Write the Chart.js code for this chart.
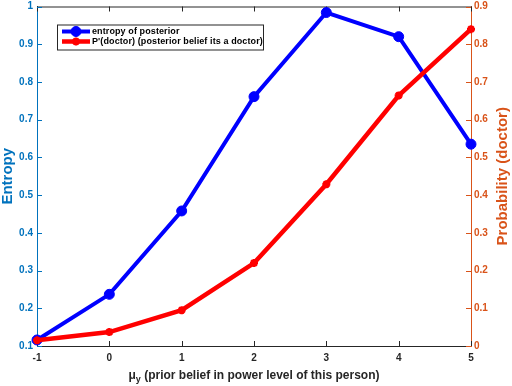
<!DOCTYPE html>
<html>
<head>
<meta charset="utf-8">
<script src="https://cdn.jsdelivr.net/npm/chart.js@4/dist/chart.umd.min.js"></script>
<style>
html,body{margin:0;padding:0;background:#fff;}
canvas{display:block;}
</style>
</head>
<body>
<canvas id="myChart" width="512" height="386"></canvas>
<script>
// data
var muY = [-1, 0, 1, 2, 3, 4, 5];
var entropy = [0.116, 0.237, 0.458, 0.761, 0.984, 0.920, 0.635];
var pDoctor = [0.015, 0.037, 0.095, 0.220, 0.429, 0.664, 0.840];
var xTicks = [-1, 0, 1, 2, 3, 4, 5];
var leftTicks = [0.1, 0.2, 0.3, 0.4, 0.5, 0.6, 0.7, 0.8, 0.9, 1];
var rightTicks = [0, 0.1, 0.2, 0.3, 0.4, 0.5, 0.6, 0.7, 0.8, 0.9];
var seriesNames = ['entropy of posterior', "P'(doctor) (posterior belief its a doctor)"];

var blue = '#0072BD', orange = '#D95319', dark = '#262626';
var FONT = '"Liberation Sans", Arial, sans-serif';
Chart.defaults.font.family = FONT;

function pts(ys){
    return muY.map(function(x, i){ return {x: x, y: ys[i]}; });
}
function fmt(v){ return String(+Number(v).toFixed(1)); }

var tickMarks = {
    id: 'tickMarks',
    beforeDatasetsDraw: function(chart){
        var ctx = chart.ctx, a = chart.chartArea, s = chart.scales;
        ctx.save();
        ctx.lineWidth = 1;
        ctx.strokeStyle = dark;
        ctx.beginPath();
        ctx.moveTo(a.left, a.top + 0.5); ctx.lineTo(a.right, a.top + 0.5);
        s.x.ticks.forEach(function(t){
            var px = Math.round(s.x.getPixelForValue(t.value)) + 0.5;
            ctx.moveTo(px, a.bottom); ctx.lineTo(px, a.bottom - 5);
            ctx.moveTo(px, a.top); ctx.lineTo(px, a.top + 5);
        });
        ctx.stroke();
        ctx.strokeStyle = blue;
        ctx.beginPath();
        s.y.ticks.forEach(function(t){
            var py = Math.round(s.y.getPixelForValue(t.value)) + 0.5;
            ctx.moveTo(a.left, py); ctx.lineTo(a.left + 5, py);
        });
        ctx.stroke();
        ctx.strokeStyle = orange;
        ctx.beginPath();
        s.y1.ticks.forEach(function(t){
            var py = Math.round(s.y1.getPixelForValue(t.value)) + 0.5;
            ctx.moveTo(a.right, py); ctx.lineTo(a.right - 5, py);
        });
        ctx.stroke();
        ctx.restore();
    }
};

var titles = {
    id: 'titles',
    afterDraw: function(chart){
        var ctx = chart.ctx, a = chart.chartArea;
        var midY = (a.top + a.bottom) / 2, midX = (a.left + a.right) / 2;
        ctx.save();
        ctx.textAlign = 'center';
        ctx.textBaseline = 'middle';
        ctx.font = 'bold 15px ' + FONT;
        ctx.fillStyle = blue;
        ctx.save();
        ctx.translate(8, midY); ctx.rotate(-Math.PI / 2);
        ctx.fillText('Entropy', 0, 0);
        ctx.restore();
        ctx.fillStyle = orange;
        ctx.save();
        ctx.translate(503, midY); ctx.rotate(-Math.PI / 2);
        ctx.fillText('Probability (doctor)', 0, 0);
        ctx.restore();
        // x label with mu subscript y
        ctx.fillStyle = dark;
        ctx.textAlign = 'left';
        ctx.textBaseline = 'alphabetic';
        var rest = ' (prior belief in power level of this person)';
        ctx.font = 'bold 12px ' + FONT;
        var w1 = ctx.measureText('\u03bc').width;
        var w3 = ctx.measureText(rest).width;
        ctx.font = 'bold 9px ' + FONT;
        var w2 = ctx.measureText('y').width;
        var x0 = midX - (w1 + w2 + w3) / 2, y0 = 379;
        ctx.font = 'bold 12px ' + FONT;
        ctx.fillText('\u03bc', x0, y0);
        ctx.fillText(rest, x0 + w1 + w2, y0);
        ctx.font = 'bold 9px ' + FONT;
        ctx.fillText('y', x0 + w1, y0 + 3);
        ctx.restore();
    }
};

var boxLegend = {
    id: 'boxLegend',
    afterDatasetsDraw: function(chart){
        var ctx = chart.ctx, a = chart.chartArea;
        var x = a.left + 20, y = a.top + 18;
        ctx.save();
        ctx.fillStyle = '#fff';
        ctx.fillRect(x, y, 206, 25);
        ctx.strokeStyle = dark;
        ctx.lineWidth = 1;
        ctx.strokeRect(x + 0.5, y + 0.5, 206, 25);
        chart.data.datasets.forEach(function(ds, i){
            var ly = y + 7 + i * 10;
            ctx.strokeStyle = ds.borderColor;
            ctx.lineWidth = ds.borderWidth;
            ctx.beginPath();
            ctx.moveTo(x + 5, ly); ctx.lineTo(x + 33, ly);
            ctx.stroke();
            ctx.fillStyle = ds.pointBackgroundColor;
            ctx.strokeStyle = ds.pointBorderColor;
            ctx.lineWidth = ds.pointBorderWidth;
            Chart.helpers.drawPoint(ctx, {pointStyle: ds.pointStyle, radius: ds.pointRadius, borderWidth: ds.pointBorderWidth}, x + 19, ly);
            ctx.fillStyle = '#000';
            ctx.font = 'bold 9px ' + FONT;
            ctx.letterSpacing = '0.1px';
            ctx.textBaseline = 'middle';
            ctx.fillText(seriesNames[i], x + 35, ly + 0.5);
            ctx.letterSpacing = '0px';
        });
        ctx.restore();
    }
};

var ctx = document.getElementById('myChart').getContext('2d');
var chart = new Chart(ctx, {
    type: 'line',
    data: {
        datasets: [{
            label: seriesNames[0],
            data: pts(entropy),
            yAxisID: 'y',
            borderColor: '#0000ff',
            backgroundColor: '#0000ff',
            borderWidth: 4,
            pointStyle: 'circle',
            pointRadius: 5,
            pointBackgroundColor: '#0000ff',
            pointBorderColor: '#0000ff',
            pointBorderWidth: 1,
            tension: 0,
            clip: false,
            order: 1
        }, {
            label: seriesNames[1],
            data: pts(pDoctor),
            yAxisID: 'y1',
            borderColor: '#ff0000',
            backgroundColor: '#ff0000',
            borderWidth: 4.5,
            pointStyle: 'star',
            pointRadius: 4,
            pointBackgroundColor: '#ff0000',
            pointBorderColor: '#ff0000',
            pointBorderWidth: 2.5,
            tension: 0,
            clip: false,
            order: 0
        }]
    },
    options: {
        responsive: false,
        animation: false,
        devicePixelRatio: 1,
        layout: {padding: {top: 4, left: 0, right: 0, bottom: 0}},
        plugins: {legend: {display: false}, tooltip: {enabled: false}},
        scales: {
            x: {
                type: 'linear', min: -1, max: 5,
                afterBuildTicks: function(s){ s.ticks = xTicks.map(function(v){ return {value: v}; }); },
                afterFit: function(s){ s.height = 40; s.paddingLeft = 0; s.paddingRight = 0; },
                grid: {display: false, drawTicks: false, tickLength: 0},
                border: {display: true, color: dark, width: 1},
                ticks: {color: dark, padding: 6, font: {size: 10, weight: 'bold'}, maxRotation: 0, callback: fmt}
            },
            y: {
                position: 'left', min: 0.1, max: 1,
                afterBuildTicks: function(s){ s.ticks = leftTicks.map(function(v){ return {value: v}; }); },
                afterFit: function(s){ s.width = 37; s.paddingTop = 0; s.paddingBottom = 0; },
                grid: {display: false, drawTicks: false, tickLength: 0},
                border: {display: true, color: blue, width: 1},
                ticks: {color: blue, padding: 4, font: {size: 10, weight: 'bold'}, callback: fmt}
            },
            y1: {
                position: 'right', min: 0, max: 0.9,
                afterBuildTicks: function(s){ s.ticks = rightTicks.map(function(v){ return {value: v}; }); },
                afterFit: function(s){ s.width = 41; s.paddingTop = 0; s.paddingBottom = 0; },
                grid: {display: false, drawTicks: false, tickLength: 0},
                border: {display: true, color: orange, width: 1},
                ticks: {color: orange, padding: 3, font: {size: 10, weight: 'bold'}, callback: fmt}
            }
        }
    },
    plugins: [tickMarks, boxLegend, titles]
});
</script>
</body>
</html>
